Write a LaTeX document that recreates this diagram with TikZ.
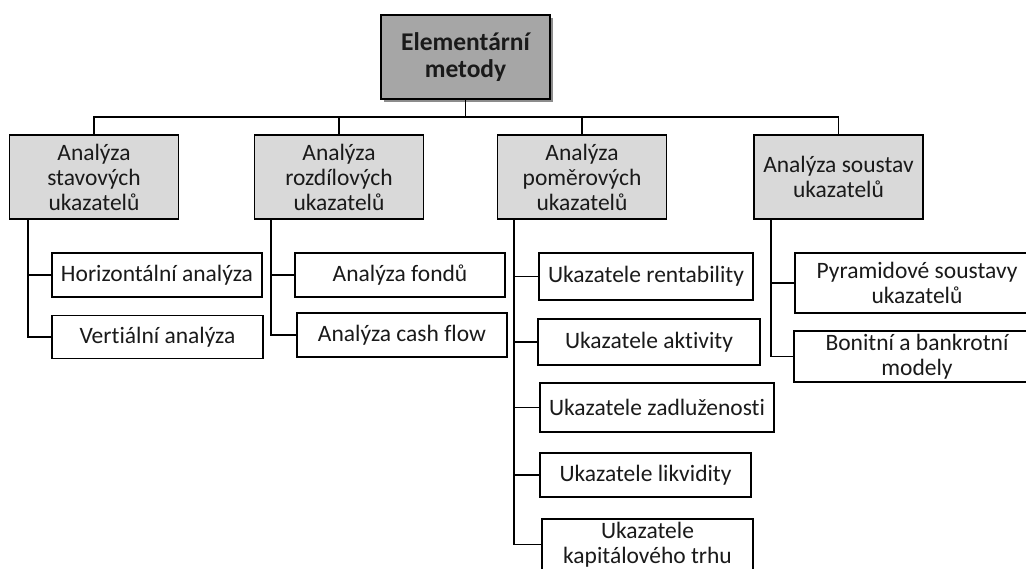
\documentclass[tikz,border=0pt]{standalone}
\usepackage{fontspec}
\setmainfont{Carlito}[Ligatures=NoCommon]
\usetikzlibrary{positioning}
\usetikzlibrary{shadows}
\definecolor{rootgray}{HTML}{A6A6A6}
\definecolor{groupgray}{HTML}{D9D9D9}
\definecolor{textgray}{HTML}{1A1A1A}
\tikzset{
	root/.style={draw, rectangle, line width=1.6pt, fill=rootgray, minimum width=169pt, minimum height=84pt, text=textgray, align=center, font=\fontsize{25.5}{27.5}\selectfont\bfseries, drop shadow={shadow xshift=3pt, shadow yshift=-3pt, opacity=0.45, fill=black}},
	group/.style={draw, rectangle, line width=1.6pt, fill=groupgray, minimum width=169pt, minimum height=84pt, inner sep=1pt, text=textgray, align=center, font=\fontsize{23.5}{25}\selectfont},
	item/.style={draw, rectangle, line width=1.6pt, fill=white, inner sep=1pt, text=textgray, align=center, font=\fontsize{23.5}{25}\selectfont},
	link/.style={line width=1.6pt, black},
}
\begin{document}
\begin{tikzpicture}[x=1pt, y=-1pt]
			\useasboundingbox (0,0) rectangle (1026,568);
			\clip (0,0) rectangle (1026,568);
			
			\node (root) [root] at (465.5,57) {Elementární\\metody};
			
			\node (g1) [group] at (94,177) {Analýza\\stavových\\ukazatelů};
			\node (g2) [group] at (339,177) {Analýza\\rozdílových\\ukazatelů};
			\node (g3) [group] at (582,177) {Analýza\\poměrových\\ukazatelů};
			\node (g4) [group] at (838.5,177) {Analýza soustav\\ukazatelů};
			
			\node (h1) [item, minimum width=210pt, minimum height=44pt] at (157,275) {Horizontální analýza};
			\node (v1) [item, minimum width=211pt, minimum height=43pt] at (157.5,337) {Vertiální analýza};
			
			\node (f2) [item, minimum width=210pt, minimum height=44pt] at (400,275) {Analýza fondů};
			\node (c2) [item, minimum width=210pt, minimum height=44pt] at (402,335) {Analýza cash flow};
			
			\node (r3) [item, minimum width=214pt, minimum height=47pt] at (646,276.5) {Ukazatele rentability};
			\node (a3) [item, minimum width=222pt, minimum height=46pt] at (649,342) {Ukazatele aktivity};
			\node (z3) [item, minimum width=234pt, minimum height=49pt] at (657,407.5) {Ukazatele zadluženosti};
			\node (l3) [item, minimum width=211pt, minimum height=44pt] at (645.5,475) {Ukazatele likvidity};
			\node (k3) [item, minimum width=211pt, minimum height=51pt] at (647.5,544.5) {Ukazatele\\kapitálového trhu};
			
			\node (p4) [item, minimum width=244pt, minimum height=60pt] at (917,283) {Pyramidové soustavy\\ukazatelů};
			\node (b4) [item, minimum width=246pt, minimum height=51pt] at (917,356.5) {Bonitní a bankrotní\\modely};
			
			% bus below the root
			\coordinate (bus) at (root.south |- 0,117);
			
			% stems of the groups
			\coordinate (s1) at ([xshift=19pt]g1.south west);
			\coordinate (s2) at ([xshift=17pt]g2.south west);
			\coordinate (s3) at ([xshift=17pt]g3.south west);
			\coordinate (s4) at ([xshift=18pt]g4.south west);
			
			\begin{scope}[link]
				\draw (root.south) -- (bus);
				\draw (bus) -| (g1.north);
				\draw (bus) -| (g2.north);
				\draw (bus) -| (g3.north);
				\draw (bus) -| (g4.north);
				
				\draw (s1) |- (v1.west);
				\draw (s1 |- h1.west) -- (h1.west);
				
				\draw (s2) |- (c2.west);
				\draw (s2 |- f2.west) -- (f2.west);
				
				\draw (s3) |- (k3.west);
				\draw (s3 |- r3.west) -- (r3.west);
				\draw (s3 |- a3.west) -- (a3.west);
				\draw (s3 |- z3.west) -- (z3.west);
				\draw (s3 |- l3.west) -- (l3.west);
				
				\draw (s4) |- (b4.west);
				\draw (s4 |- p4.west) -- (p4.west);
			\end{scope}
			
		\end{tikzpicture}
\end{document}
